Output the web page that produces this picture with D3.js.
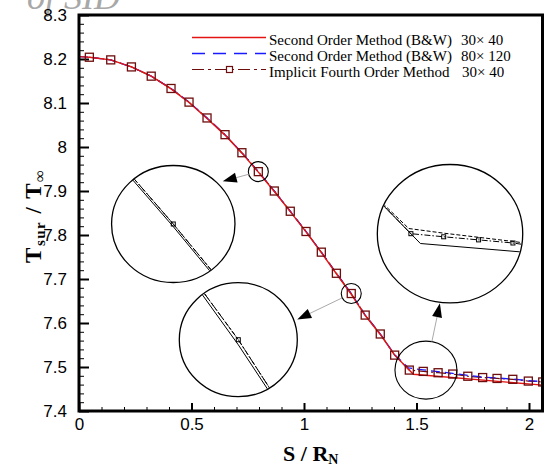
<!DOCTYPE html>
<html><head><meta charset="utf-8">
<script src="https://cdn.jsdelivr.net/npm/d3@7"></script>
<style>body{margin:0;background:#fff;overflow:hidden}svg{display:block}</style>
</head><body>
<script>
// ---------- data ----------
const xTickValues = [0, 0.5, 1, 1.5, 2];
const xTickLabels = ["0", "0.5", "1", "1.5", "2"];
const yTickValues = [7.4, 7.5, 7.6, 7.7, 7.8, 7.9, 8.0, 8.1, 8.2, 8.3];
const yTickLabels = ["7.4", "7.5", "7.6", "7.7", "7.8", "7.9", "8", "8.1", "8.2", "8.3"];
const seriesNames = ["Second Order Method (B&W)", "Second Order Method (B&W)", "Implicit Fourth Order Method"];
const gridLabels = ["30× 40", "80× 120", "30× 40"];

// Second order (B&W) 30x40
const sSecond30 = [0, 0.046, 0.141, 0.233, 0.321, 0.409, 0.489, 0.569, 0.649, 0.724, 0.797, 0.868, 0.939, 1.009, 1.077, 1.144, 1.210, 1.272, 1.339, 1.403, 1.486, 2.07];
const tSecond30 = [8.2055, 8.204, 8.198, 8.182, 8.161, 8.132, 8.101, 8.065, 8.027, 7.986, 7.943, 7.899, 7.853, 7.807, 7.760, 7.712, 7.665, 7.617, 7.574, 7.527, 7.4835, 7.4585];
// Second order (B&W) 80x120
const sSecond80 = [0, 0.046, 0.141, 0.233, 0.321, 0.409, 0.489, 0.569, 0.649, 0.724, 0.797, 0.868, 0.939, 1.009, 1.077, 1.144, 1.210, 1.272, 1.339, 1.403, 1.464, 1.530, 1.596, 1.661, 1.728, 1.794, 1.858, 1.928, 1.997, 2.07];
const tSecond80 = [8.2055, 8.204, 8.198, 8.182, 8.161, 8.133, 8.102, 8.066, 8.028, 7.987, 7.944, 7.900, 7.854, 7.808, 7.761, 7.713, 7.667, 7.618, 7.575, 7.528, 7.498, 7.4935, 7.4895, 7.4855, 7.481, 7.477, 7.475, 7.4725, 7.469, 7.4665];
// Implicit fourth order 30x40
const sFourth = [0.046, 0.141, 0.233, 0.321, 0.409, 0.489, 0.569, 0.649, 0.724, 0.797, 0.868, 0.939, 1.009, 1.077, 1.144, 1.210, 1.272, 1.339, 1.403, 1.468, 1.530, 1.596, 1.661, 1.728, 1.794, 1.858, 1.928, 1.997, 2.061];
const tFourth = [8.204, 8.198, 8.182, 8.161, 8.133, 8.102, 8.066, 8.028, 7.987, 7.944, 7.900, 7.854, 7.808, 7.761, 7.713, 7.667, 7.618, 7.575, 7.527, 7.493, 7.490, 7.487, 7.484, 7.479, 7.476, 7.474, 7.472, 7.468, 7.466];

// magnifier annotations (data coordinates of the zoomed spot, the enlarged view, and arrow tip)
const zoomSpotS = [0.797, 1.210, 1.542];
const zoomSpotT = [7.944, 7.667, 7.493];
const zoomViewS = [0.419, 0.708, 1.649];
const zoomViewT = [7.825, 7.562, 7.803];
const arrowTipS = [0.639, 0.970, 1.604];
const arrowTipT = [7.922, 7.608, 7.645];

// ---------- layout ----------
const W = 544, H = 468;
const L = 79, T = 15, R = 542.5, B = 411;
const spotR = [[10, 10], [10, 10], [31, 29]];
const viewR = [[61.7, 58.5], [59, 57], [72.7, 69.2]];
const zoomK = [6.0, 5.8, 2.35];

const svg = d3.select("body").append("svg").attr("width", W).attr("height", H);
const x = d3.scaleLinear().domain([0, (R - L) / 225]).range([L, R]);
const y = d3.scaleLinear().domain([7.4, 8.3]).range([B, T]);

// watermark
svg.append("text").attr("x", 120).attr("y", 9).attr("text-anchor", "end")
  .attr("font-family", "Liberation Serif").attr("font-style", "italic")
  .attr("font-size", 36).attr("fill", "#a8a8a8").text("of SID");

const defs = svg.append("defs");
defs.append("clipPath").attr("id", "plotclip").append("rect")
  .attr("x", L).attr("y", T).attr("width", R - L).attr("height", B - T);

// axes
const tickFont = "Liberation Sans";
const yAxis = svg.append("g").attr("transform", `translate(${L},0)`)
  .call(d3.axisLeft(y).tickValues(yTickValues).tickSize(-10).tickPadding(12)
    .tickFormat((d, i) => yTickLabels[i]));
const yMinor = svg.append("g").attr("transform", `translate(${L},0)`)
  .call(d3.axisLeft(y).tickValues(d3.range(7.4, 8.3001, 0.02)).tickSize(-5).tickFormat(""));
const xAxis = svg.append("g").attr("transform", `translate(0,${B})`)
  .call(d3.axisBottom(x).tickValues(xTickValues).tickSize(-8).tickPadding(7)
    .tickFormat((d, i) => xTickLabels[i]));
const xMinor = svg.append("g").attr("transform", `translate(0,${B})`)
  .call(d3.axisBottom(x).tickValues(d3.range(0, 2.06, 0.1)).tickSize(-4).tickFormat(""));
[yAxis, yMinor, xAxis, xMinor].forEach(g => {
  g.select(".domain").remove();
  g.selectAll("text").attr("font-family", tickFont).attr("font-size", 17).attr("fill", "#000");
});
yAxis.selectAll("line").attr("stroke-width", 2);
xAxis.selectAll("line").attr("stroke-width", 2);
yMinor.selectAll("line").attr("stroke-width", 1);
xMinor.selectAll("line").attr("stroke-width", 1);

// series
const d30 = d3.zip(sSecond30, tSecond30);
const d80 = d3.zip(sSecond80, tSecond80);
const d4 = d3.zip(sFourth, tFourth);
const line = d3.line().x(d => x(d[0])).y(d => y(d[1]));
const plot = svg.append("g").attr("clip-path", "url(#plotclip)");
plot.append("path").attr("d", line(d4)).attr("fill", "none")
  .attr("stroke", "#6e0d0d").attr("stroke-width", 1.2).attr("stroke-dasharray", "10,3,2,3");
plot.append("path").attr("d", line(d80)).attr("fill", "none")
  .attr("stroke", "#1a1aff").attr("stroke-width", 1.3).attr("stroke-dasharray", "9,5");
plot.append("path").attr("d", line(d30)).attr("fill", "none")
  .attr("stroke", "#e31414").attr("stroke-width", 1.4);
plot.selectAll("rect.mk").data(d4).enter().append("rect").attr("class", "mk")
  .attr("x", d => x(d[0]) - 4).attr("y", d => y(d[1]) - 4).attr("width", 8).attr("height", 8)
  .attr("fill", "none").attr("stroke", "#6e0d0d").attr("stroke-width", 1.3);

// frame
svg.append("rect").attr("x", L).attr("y", T).attr("width", R - L).attr("height", B - T)
  .attr("fill", "none").attr("stroke", "#000").attr("stroke-width", 3);

// magnifiers
zoomSpotS.forEach((s, i) => {
  const sx = x(s), sy = y(zoomSpotT[i]);
  const bx = x(zoomViewS[i]), by = y(zoomViewT[i]);
  const k = zoomK[i];
  const mline = d3.line().x(d => bx + k * (x(d[0]) - sx)).y(d => by + k * (y(d[1]) - sy));
  const g = svg.append("g");
  g.append("ellipse").attr("cx", sx).attr("cy", sy).attr("rx", spotR[i][0]).attr("ry", spotR[i][1])
    .attr("fill", "none").attr("stroke", "#000").attr("stroke-width", 1.1);
  defs.append("clipPath").attr("id", "zc" + i).append("ellipse")
    .attr("cx", bx).attr("cy", by).attr("rx", viewR[i][0] - 0.5).attr("ry", viewR[i][1] - 0.5);
  g.append("ellipse").attr("cx", bx).attr("cy", by).attr("rx", viewR[i][0]).attr("ry", viewR[i][1])
    .attr("fill", "#fff").attr("stroke", "none");
  const zg = g.append("g").attr("clip-path", `url(#zc${i})`);
  zg.append("path").attr("d", mline(d30)).attr("fill", "none").attr("stroke", "#000").attr("stroke-width", 1);
  zg.append("path").attr("d", mline(d80)).attr("fill", "none").attr("stroke", "#000")
    .attr("stroke-width", 1).attr("stroke-dasharray", "4,2");
  zg.append("path").attr("d", mline(d4)).attr("fill", "none").attr("stroke", "#000")
    .attr("stroke-width", 1).attr("stroke-dasharray", "6,2,1.5,2");
  zg.selectAll("rect").data(d4).enter().append("rect")
    .attr("x", d => bx + k * (x(d[0]) - sx) - 2).attr("y", d => by + k * (y(d[1]) - sy) - 2)
    .attr("width", 4).attr("height", 4).attr("fill", "none").attr("stroke", "#000").attr("stroke-width", 1);
  g.append("ellipse").attr("cx", bx).attr("cy", by).attr("rx", viewR[i][0]).attr("ry", viewR[i][1])
    .attr("fill", "none").attr("stroke", "#000").attr("stroke-width", 1.3);
  // arrow
  const tx = x(arrowTipS[i]), ty = y(arrowTipT[i]);
  const dx = tx - sx, dy = ty - sy, len = Math.hypot(dx, dy);
  const ux = dx / len, uy = dy / len;
  const rr = 1 / Math.hypot(ux / spotR[i][0], uy / spotR[i][1]);
  const ax = sx + ux * rr, ay = sy + uy * rr;
  const hl = 14, hw = 5;
  const bxh = tx - ux * hl, byh = ty - uy * hl;
  g.append("line").attr("x1", ax).attr("y1", ay).attr("x2", bxh).attr("y2", byh)
    .attr("stroke", "#aaa").attr("stroke-width", 1);
  g.append("path").attr("d", `M${tx},${ty}L${bxh - uy * hw},${byh + ux * hw}L${bxh + uy * hw},${byh - ux * hw}Z`)
    .attr("fill", "#000");
});

// legend
const legX0 = 192, legX1 = 266, legTextX = 269, legNumX = 461;
const legLineY = [37.5, 53.5, 69.5];
const legStyles = [
  {stroke: "#e31414", dash: null, w: 1.5},
  {stroke: "#1a1aff", dash: "13,8", w: 1.3},
  {stroke: "#6e0d0d", dash: "12,4,3,4", w: 1.2}
];
seriesNames.forEach((name, i) => {
  const ly = legLineY[i];
  svg.append("line").attr("x1", legX0).attr("x2", legX1).attr("y1", ly).attr("y2", ly)
    .attr("stroke", legStyles[i].stroke).attr("stroke-width", legStyles[i].w)
    .attr("stroke-dasharray", legStyles[i].dash);
  svg.append("text").attr("x", legTextX).attr("y", ly + 7.5)
    .attr("font-family", "Liberation Serif").attr("font-size", 15).text(name);
  svg.append("text").attr("x", legNumX + (i === 2 ? 1 : 0)).attr("y", ly + 7.5)
    .attr("font-family", "Liberation Serif").attr("font-size", 15).text(gridLabels[i]);
});
svg.append("rect").attr("x", 229.5 - 3).attr("y", legLineY[2] - 3).attr("width", 6).attr("height", 6)
  .attr("fill", "#fff").attr("stroke", "#6e0d0d").attr("stroke-width", 1.2);

// axis titles
const xt = svg.append("text").attr("x", (L + R) / 2).attr("y", 461).attr("text-anchor", "middle")
  .attr("font-family", "Liberation Serif").attr("font-weight", "bold").attr("font-size", 22);
xt.append("tspan").text("S / R");
xt.append("tspan").attr("font-size", 14).attr("dy", 3).text("N");

const yt = svg.append("text").attr("transform", `translate(41,216) rotate(-90)`)
  .attr("text-anchor", "middle").attr("letter-spacing", 1.5)
  .attr("font-family", "Liberation Serif").attr("font-weight", "bold").attr("font-size", 23);
yt.append("tspan").text("T");
yt.append("tspan").attr("font-size", 15).attr("dy", 4).text("sur");
yt.append("tspan").attr("dy", -4).text(" / T");
yt.append("tspan").attr("font-size", 16).attr("dy", 4).text("∞");
</script>
</body></html>
